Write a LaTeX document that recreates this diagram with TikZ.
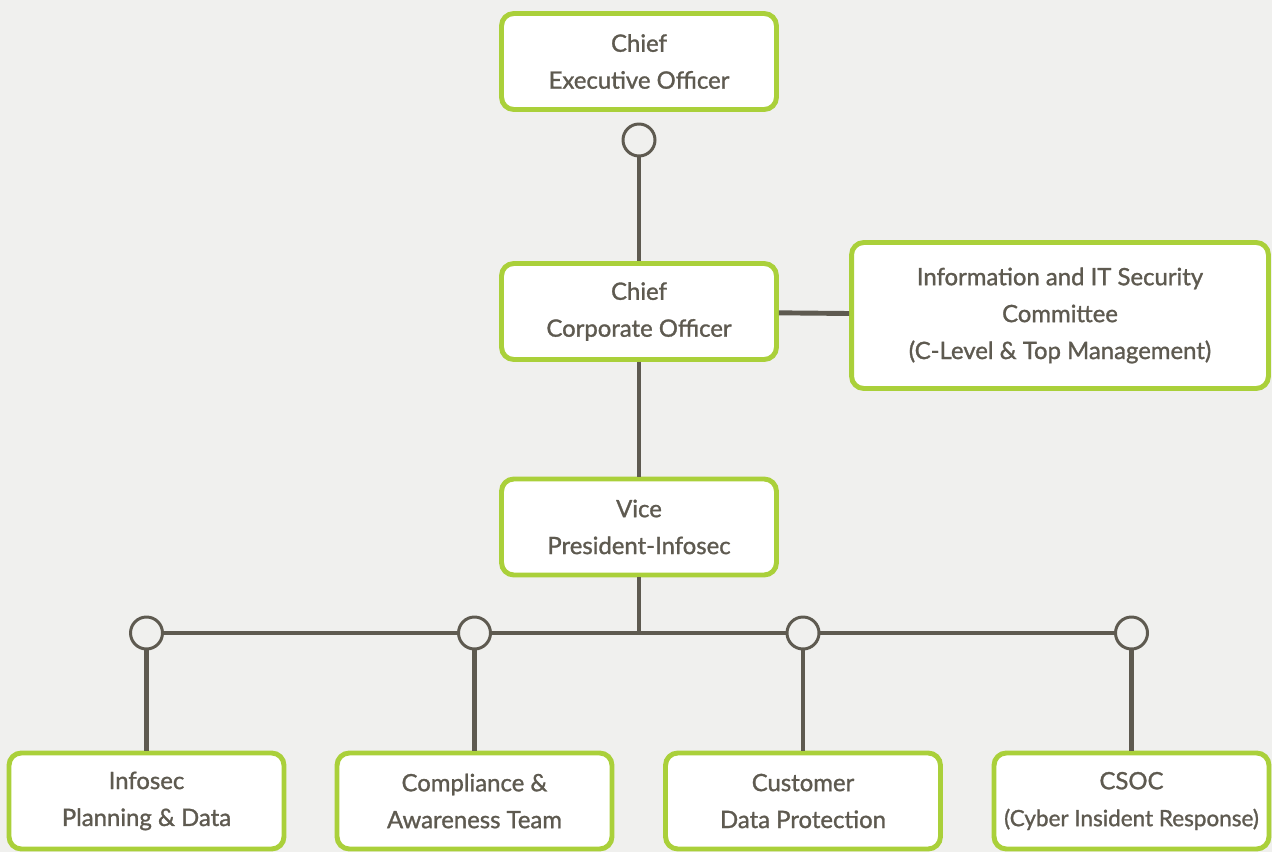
\documentclass[tikz,border=0pt]{standalone}
\usepackage{fontspec}
\setmainfont{Lato}
\newfontfamily\orgfont{Lato}[FakeBold=1.2]
\usetikzlibrary{positioning, math}
\definecolor{qgreen}{RGB}{170,208,58}
\definecolor{qline}{RGB}{94,90,80}
\definecolor{qbg}{RGB}{240,240,238}

\tikzset{
  orgbox/.style={draw=qgreen, fill=white, line width=2.8pt, rounded corners=7pt,
    minimum width=5.5cm, minimum height=1.92cm, inner sep=0pt, align=center,
    text=qline, font=\orgfont\fontsize{13.6}{21}\selectfont},
  joint/.style={circle, draw=qline, fill=qbg, line width=1.7pt,
    minimum size=0.64cm, inner sep=0pt},
  link/.style={draw=qline, line width=2.8pt}
}

\begin{document}
\begin{tikzpicture}[x=0.02cm, y=-0.02cm]

\tikzmath{
\xm = 639;  % middle column
\yj = 633;  % row of joints
\yt = 801;  % row of teams
}

\useasboundingbox (0,0) rectangle (1272,852);
\fill[qbg] (0,0) rectangle (1272,852);

\node[orgbox] (ceo) at (\xm,61.5) {Chief\\Executive Officer};
\node[joint] (jceo) at (\xm,140) {};
\node[orgbox] (cco) at (\xm,311.5) {Chief\\Corporate Officer};
\node[orgbox, minimum width=8.34cm, minimum height=2.92cm] (committee) at (1060,315.5)
  {Information and IT Security\\Committee\\(C-Level \& Top Management)};
\node[orgbox] (vp) at (\xm,527) {Vice\\President-Infosec};
\coordinate (hub) at (\xm,\yj);

\draw[link] (jceo) -- (cco);
\draw[link] (cco) -- (committee);
\draw[link] (cco) -- (vp);
\draw[link] (vp) -- (hub);

\foreach \n/\x/\txt in {1/146.5/{Infosec\\Planning \& Data},
                        2/474.5/{Compliance \&\\Awareness Team},
                        3/803/{Customer\\Data Protection},
                        4/1131.5/{CSOC\\{\fontsize{12.8}{21}\selectfont(Cyber Insident Response)}}}{
  \node[joint] (j\n) at (\x,\yj) {};
  \node[orgbox] (team\n) at (\x,\yt) {\txt};
  \draw[link] (j\n) -- (team\n);
}

\draw[link] (j1) -- (j2);
\draw[link] (j2) -- (j3);
\draw[link] (j3) -- (j4);

\end{tikzpicture}
\end{document}
